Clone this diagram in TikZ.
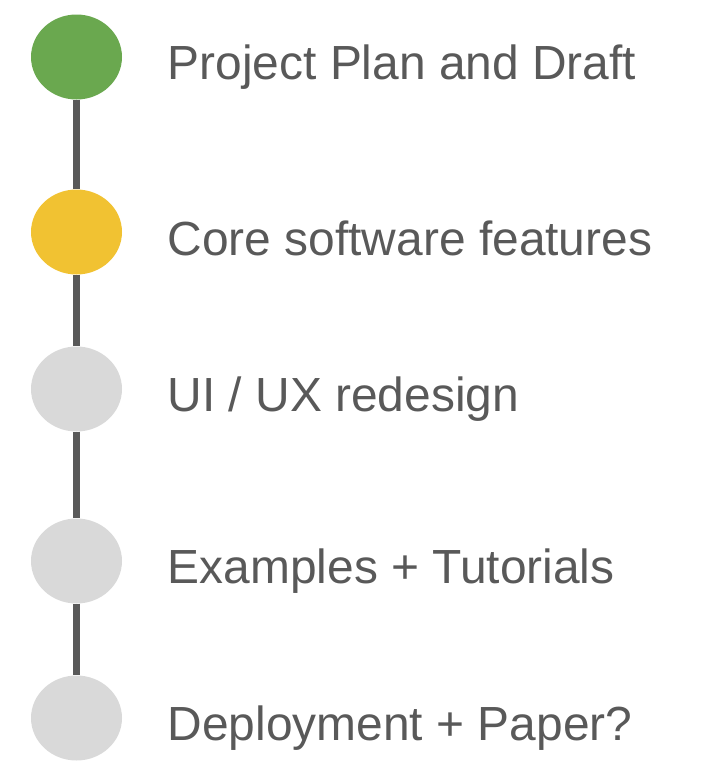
\documentclass[tikz,border=0pt]{standalone}
\usepackage{fontspec}
\setmainfont{Liberation Sans}
\usetikzlibrary{shapes.geometric}
\definecolor{dgreen}{HTML}{6AA84F}
\definecolor{dyellow}{HTML}{F1C232}
\definecolor{lgray}{HTML}{D9D9D9}
\definecolor{tgray}{HTML}{595959}
\tikzset{
  dot/.style={ellipse, fill=#1, draw=none, minimum width=91pt, minimum height=85pt, inner sep=0pt},
  lbl/.style={anchor=base west, text=tgray, inner sep=0pt, font=\fontsize{47.9}{57}\selectfont},
  link/.style={draw=tgray, line width=7pt}
}
\begin{document}
\begin{tikzpicture}[x=1pt,y=-1pt]
\useasboundingbox (0,0) rectangle (723,780);
\node[dot=dgreen] (c1) at (76.5,57) {};
\node[dot=dyellow] (c2) at (76.5,232) {};
\node[dot=lgray] (c3) at (76.5,389) {};
\node[dot=lgray] (c4) at (76.5,561) {};
\node[dot=lgray] (c5) at (76.5,718) {};
\draw[link] (c1) -- (c2);
\draw[link] (c2) -- (c3);
\draw[link] (c3) -- (c4);
\draw[link] (c4) -- (c5);
\node[lbl] (t1) at (167.5,79) {Project Plan and Draft};
\node[lbl] (t2) at (167.5,255) {Core software features};
\node[lbl] (t3) at (167.5,411) {UI / UX redesign};
\node[lbl] (t4) at (167.5,583) {Examples + Tutorials};
\node[lbl] (t5) at (167.5,740) {Deployment + Paper?};
\end{tikzpicture}
\end{document}
